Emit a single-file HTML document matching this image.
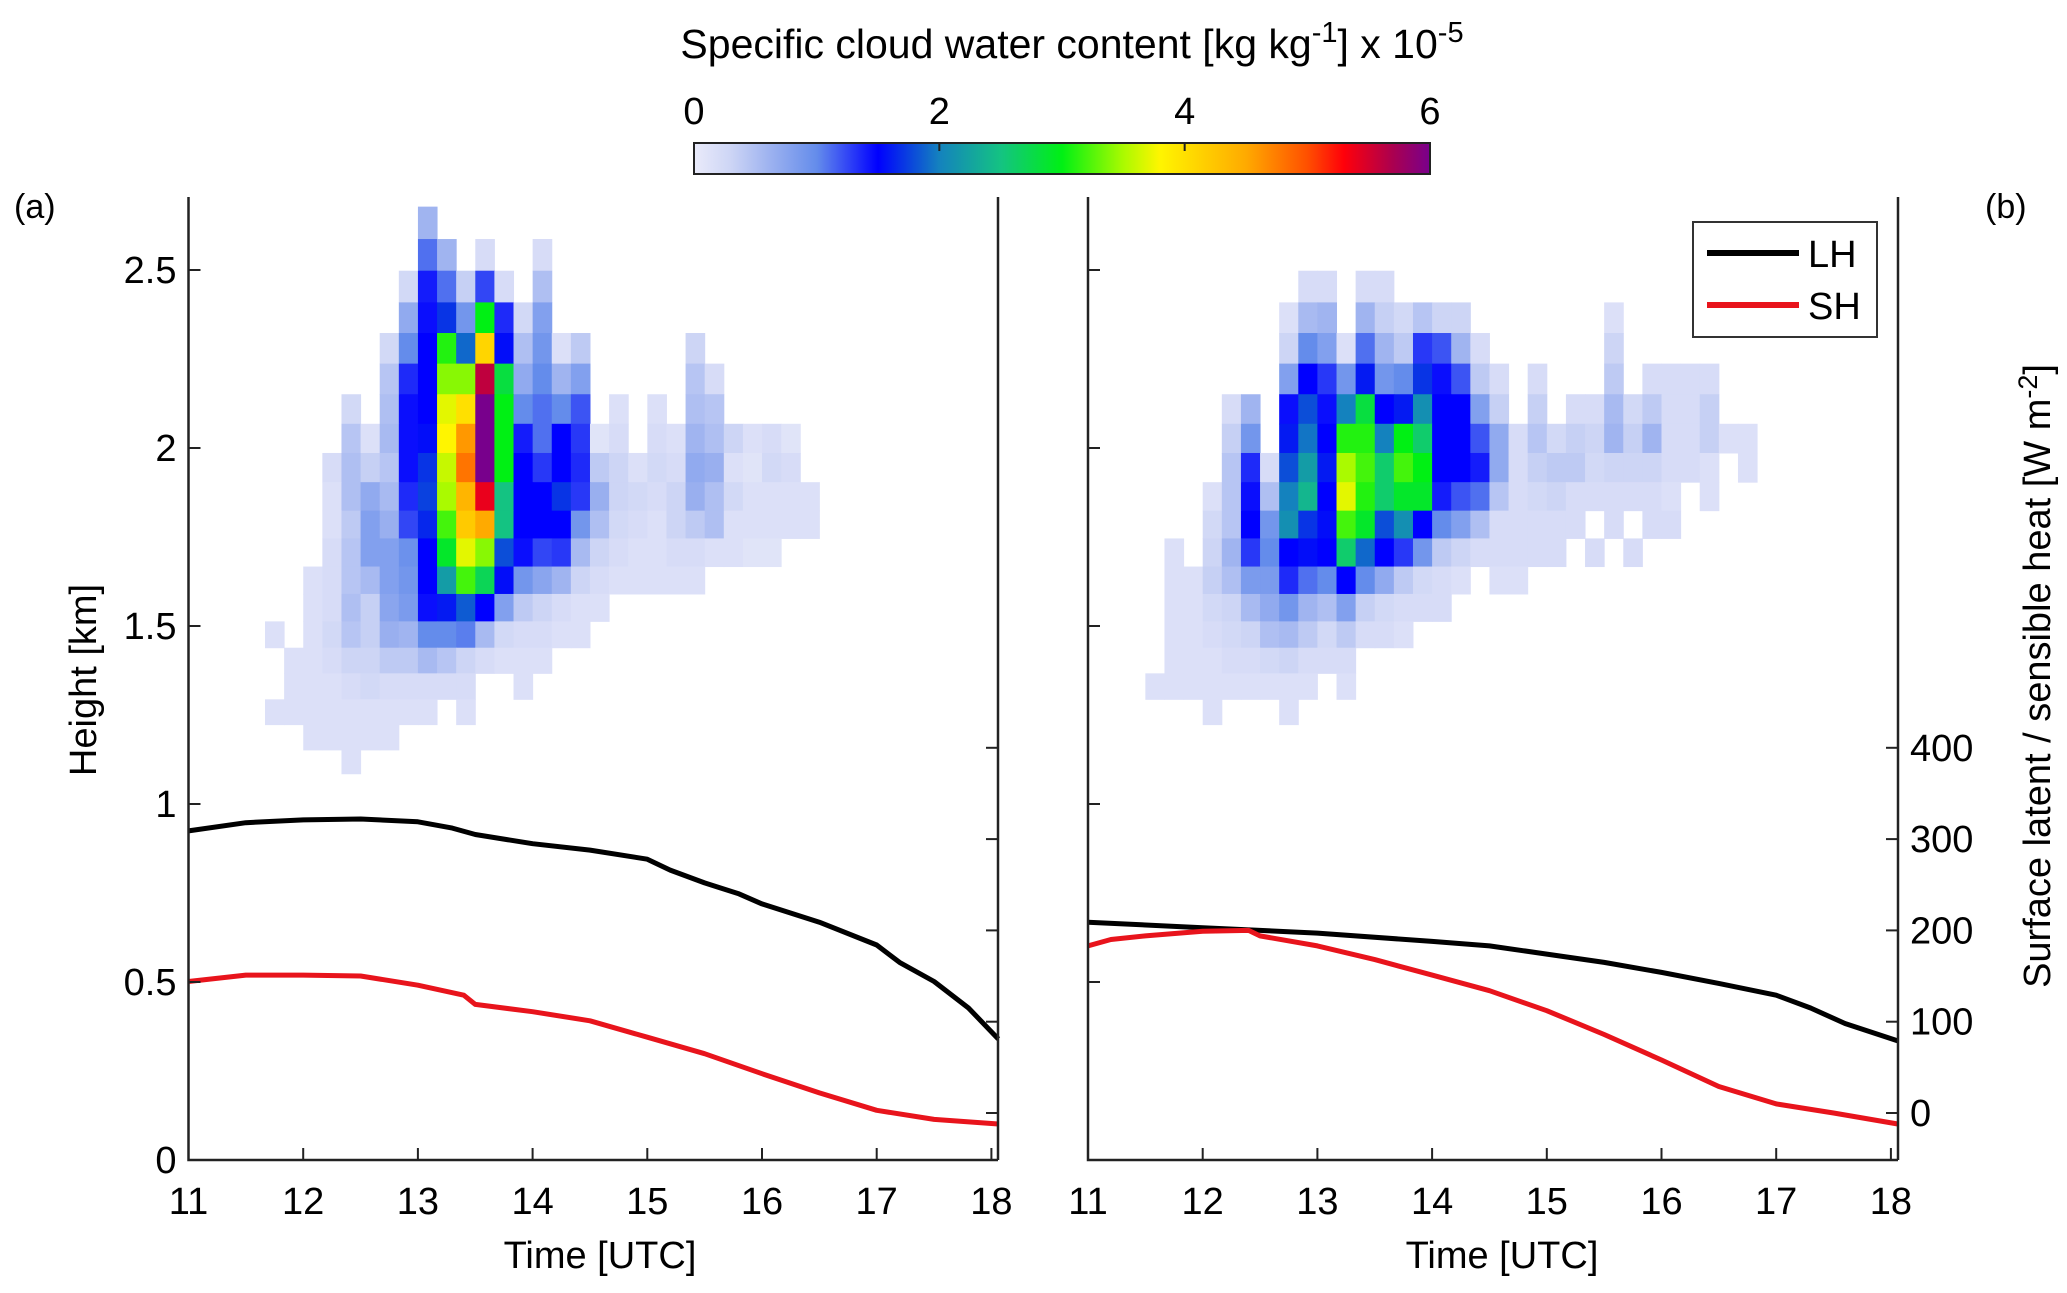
<!DOCTYPE html>
<html><head><meta charset="utf-8"><style>
html,body{margin:0;padding:0;background:#fff;}
svg{display:block;font-family:"Liberation Sans",Arial,sans-serif;}
</style></head><body>
<svg id="chart" width="2067" height="1293" viewBox="0 0 2067 1293" xmlns="http://www.w3.org/2000/svg">
<defs>
<linearGradient id="cbgrad" x1="0" x2="1" y1="0" y2="0">
<stop offset="0" stop-color="rgb(234,235,250)"/>
<stop offset="0.05" stop-color="rgb(205,213,245)"/>
<stop offset="0.10" stop-color="rgb(160,180,240)"/>
<stop offset="0.167" stop-color="rgb(100,140,235)"/>
<stop offset="0.25" stop-color="rgb(0,0,255)"/>
<stop offset="0.333" stop-color="rgb(20,130,190)"/>
<stop offset="0.417" stop-color="rgb(20,195,130)"/>
<stop offset="0.5" stop-color="rgb(0,240,20)"/>
<stop offset="0.583" stop-color="rgb(170,250,0)"/>
<stop offset="0.633" stop-color="rgb(255,245,0)"/>
<stop offset="0.75" stop-color="rgb(255,170,0)"/>
<stop offset="0.833" stop-color="rgb(255,80,0)"/>
<stop offset="0.883" stop-color="rgb(255,0,10)"/>
<stop offset="0.95" stop-color="rgb(170,0,80)"/>
<stop offset="1" stop-color="rgb(120,0,140)"/>
</linearGradient>
</defs>
<g id="cells-a"></g>
<g id="cells-b"></g>
<g id="lines"></g>
<g id="axes"></g>
<text x="1072" y="58" font-size="41" text-anchor="middle">Specific cloud water content [kg kg<tspan dy="-16" font-size="29">-1</tspan><tspan dy="16">] x 10</tspan><tspan dy="-16" font-size="29">-5</tspan></text>
<rect x="694" y="143" width="736" height="31" fill="url(#cbgrad)" stroke="#222" stroke-width="2"/>
<g id="cbticks"></g>
<text x="14" y="218" font-size="34">(a)</text>
<text x="1985" y="218" font-size="34">(b)</text>
<text transform="translate(96,680) rotate(-90)" font-size="38" text-anchor="middle">Height [km]</text>
<text transform="translate(2050,676) rotate(-90)" font-size="38" text-anchor="middle">Surface latent / sensible heat [W m<tspan dy="-13" font-size="27">-2</tspan><tspan dy="13">]</tspan></text>
<text x="600" y="1268" font-size="38" text-anchor="middle">Time [UTC]</text>
<text x="1502" y="1268" font-size="38" text-anchor="middle">Time [UTC]</text>
<g>
<rect x="1693" y="222" width="184" height="115" fill="#fff" stroke="#333" stroke-width="2"/>
<line x1="1707" y1="253" x2="1799" y2="253" stroke="#000" stroke-width="6"/>
<text x="1808" y="267" font-size="38">LH</text>
<line x1="1707" y1="305" x2="1799" y2="305" stroke="#e8141c" stroke-width="6"/>
<text x="1808" y="319" font-size="38">SH</text>
</g>
</svg>
<script>
// level boundaries (km), top to bottom
const levels = [2.678,2.587,2.498,2.409,2.323,2.237,2.151,2.068,1.986,1.904,1.824,1.746,1.667,1.590,1.513,1.439,1.367,1.294,1.223,1.152,1.085];
const startA = 11.667, startB = 11.5, binH = 1/6;
const rowOffsetB = 2;
const gridA = [
[0,0,0,0,0,0,0,0,.6],
[0,0,0,0,0,0,0,0,1.1,.6,0,.2,0,0,.2],
[0,0,0,0,0,0,0,.25,1.4,1.1,.35,1.25,.2,0,.5],
[0,0,0,0,0,0,0,.7,1.45,1.7,.9,3.0,1.35,.25,.8],
[0,0,0,0,0,0,.25,1.0,1.5,3.1,1.9,4.1,1.55,.5,.9,.15,.4,0,0,0,0,0,.3],
[0,0,0,0,0,0,.45,1.35,1.5,3.4,3.4,5.6,2.8,.7,1.0,.6,.8,0,0,0,0,0,.45,.2],
[0,0,0,0,.25,0,.5,1.45,1.5,3.7,4.0,6,3.0,1.0,1.1,1.0,1.2,0,.15,0,.15,0,.5,.45],
[0,0,0,0,.45,.15,.55,1.45,1.55,3.8,4.6,6,3.0,1.4,1.1,1.5,1.3,.1,.2,0,.2,.15,.6,.5,.3,.15,.2,.1],
[0,0,0,.2,.5,.35,.45,1.45,1.7,3.6,4.8,6,3.0,1.5,1.3,1.5,1.35,.4,.3,.15,.25,.2,.7,.65,.15,.1,.25,.2],
[0,0,0,.15,.5,.7,.55,1.35,1.75,3.5,4.4,5.4,2.5,1.5,1.5,1.7,1.3,.65,.3,.25,.2,.3,.65,.5,.25,.15,.15,.15,.15],
[0,0,0,.15,.4,.8,.65,1.25,1.65,3.2,4.2,4.5,2.5,1.5,1.5,1.5,.9,.5,.25,.2,.15,.3,.4,.5,.15,.15,.15,.15,.15],
[0,0,0,.2,.45,.8,.8,.95,1.5,2.9,3.7,3.4,1.8,1.45,1.25,1.3,.55,.3,.2,.15,.15,.2,.2,.15,.15,.1,.1],
[0,0,.15,.2,.45,.55,.8,.9,1.5,2.2,3.2,2.7,1.55,.9,.75,.6,.3,.2,.15,.15,.15,.15,.15],
[0,0,.15,.2,.5,.35,.75,.85,1.45,1.6,1.85,1.5,.8,.4,.3,.2,.15,.15],
[.15,0,.15,.25,.45,.35,.65,.6,1.0,1.0,1.05,.55,.25,.2,.2,.15,.15],
[0,.15,.15,.2,.3,.3,.4,.4,.55,.45,.3,.2,.15,.15,.15],
[0,.15,.15,.15,.2,.25,.2,.2,.2,.2,.2,0,0,.15],
[.15,.15,.15,.15,.15,.15,.15,.15,.15,0,.15],
[0,0,.15,.15,.15,.15,.15],
[0,0,0,0,.15]
];
const gridB = [
[0,0,0,0,0,0,0,0,.2,.2,0,.2,.2],
[0,0,0,0,0,0,0,.15,.55,.6,0,.6,.35,.25,.45,.3,.3,0,0,0,0,0,0,0,.15],
[0,0,0,0,0,0,0,.3,1.0,.8,.15,1.1,.6,.4,1.3,1.2,.6,.2,0,0,0,0,0,0,.3],
[0,0,0,0,0,0,0,.8,1.5,1.3,.9,1.6,.9,1.0,1.7,1.45,1.2,.4,.2,0,.2,0,0,0,.4,0,.2,.2,.2,.2],
[0,0,0,0,.2,.6,0,1.45,1.8,1.45,2.0,2.8,1.5,1.6,2.1,1.5,1.5,.8,.35,0,.35,0,.2,.2,.55,.25,.4,.2,.2,.35],
[0,0,0,0,.35,.9,0,1.6,1.95,1.5,3.1,3.1,2.0,3.0,2.6,1.5,1.5,1.2,.7,.2,.45,.25,.35,.3,.6,.35,.6,.2,.2,.35,.15,.15],
[0,0,0,0,.45,1.35,.2,1.8,2.2,1.6,3.5,3.2,2.6,3.2,3.0,1.5,1.5,1.4,.7,.2,.35,.4,.4,.25,.3,.3,.3,.2,.2,.15,0,.15],
[0,0,0,.15,.45,1.45,.5,2.0,2.4,1.5,3.7,3.1,2.6,2.9,2.9,1.4,1.2,1.1,.45,.2,.25,.3,.2,.2,.2,.2,.2,.15,0,.15],
[0,0,0,.25,.45,1.5,.9,2.1,1.7,1.55,3.2,2.9,1.8,2.1,1.5,1.0,.8,.5,.2,.2,.2,.2,.2,0,.2,0,.2,.2],
[0,.15,0,.3,.6,1.3,1.0,1.5,1.55,1.5,2.6,1.9,1.5,1.3,.9,.4,.3,.2,.2,.2,.2,.2,0,.2,0,.2],
[0,.15,.15,.35,.5,.85,.85,1.35,1.1,1.0,1.5,1.0,.7,.4,.25,.2,.15,0,.15,.15],
[0,.15,.15,.25,.3,.55,.7,.9,.6,.5,.8,.35,.25,.2,.2,.2],
[0,.15,.15,.2,.25,.3,.5,.55,.4,.25,.4,.2,.2,.15],
[0,.15,.15,.15,.2,.2,.25,.3,.2,.2,.2],
[.15,.15,.15,.15,.15,.15,.15,.15,.15,0,.15],
[0,0,0,.15,0,0,0,.15]
];
// fluxes (W m-2)
const timesLHa = [11,11.5,12,12.5,13,13.3,13.5,14,14.5,15,15.2,15.5,15.8,16,16.5,17,17.2,17.5,17.8,18.06];
const lhA = [309,318,321,322,319,312,305,295,288,278,266,252,240,229,209,184,165,144,115,81];
const timesSHa = [11,11.5,12,12.5,13,13.4,13.5,14,14.5,15,15.5,16,16.5,17,17.5,18.06];
const shA = [144,151,151,150,140,129,119,111,101,83,65,43,22,3,-7,-12];
const timesLHb = [11,12,12.5,13,14,14.5,15,15.5,16,16.5,17,17.3,17.6,18.06];
const lhB = [209,203,200,197,188,183,174,165,154,142,129,115,98,79];
const timesSHb = [11,11.2,11.5,12,12.4,12.5,13,13.5,14,14.5,15,15.5,16,16.5,17,17.5,18.06];
const shB = [183,190,194,199,200,194,183,168,151,134,112,86,58,29,10,0,-12];
const kmTicks = [0,0.5,1,1.5,2,2.5];
const kmTickLabels = ["0","0.5","1","1.5","2","2.5"];
const hourTicks = [11,12,13,14,15,16,17,18];
const fluxTicks = [0,100,200,300,400];
const cbTicks = [0,2,4,6];

const NS="http://www.w3.org/2000/svg";
const HOUR=114.7, BOT=1160, TOP=197, KM=356, F0=1113, FU=0.913;
const panels = {a:{left:188.5,right:998}, b:{left:1088,right:1898}};
function xs(p,t){return panels[p].left+(t-11)*HOUR;}
function yk(k){return BOT-k*KM;}
function yf(f){return F0-f*FU;}
const stops=[[0,[234,235,250]],[0.3,[205,213,245]],[0.6,[160,180,240]],[1.0,[100,140,235]],[1.5,[0,0,255]],[2,[20,130,190]],[2.5,[20,195,130]],[3,[0,240,20]],[3.5,[170,250,0]],[3.8,[255,245,0]],[4.5,[255,170,0]],[5,[255,80,0]],[5.3,[255,0,10]],[5.7,[170,0,80]],[6,[120,0,140]]];
function cmap(v){
  for(let i=1;i<stops.length;i++){ if(v<=stops[i][0]){const a=stops[i-1],b=stops[i];const f=(v-a[0])/(b[0]-a[0]);
    return 'rgb('+[0,1,2].map(j=>Math.round(a[1][j]+f*(b[1][j]-a[1][j]))).join(',')+')';}}
  return 'rgb(120,0,140)';
}
function mk(tag,attrs,parent){const e=document.createElementNS(NS,tag);for(const k in attrs)e.setAttribute(k,attrs[k]);parent.appendChild(e);return e;}
function drawGrid(grid,p,start,off,gid){
  const g=document.getElementById(gid);
  grid.forEach((row,r)=>{row.forEach((v,c)=>{ if(!v) return;
    const x0=xs(p,start+c*binH), x1=xs(p,start+(c+1)*binH);
    const y0=yk(levels[r+off]), y1=yk(levels[r+off+1]);
    const el=mk('rect',{x:x0,y:y0,width:x1-x0+0.5,height:y1-y0+0.5,fill:cmap(v)},g);
    
    
  });});
}
drawGrid(gridA,'a',startA,0,'cells-a');
drawGrid(gridB,'b',startB,rowOffsetB,'cells-b');
const lg=document.getElementById('lines');
function line(p,ts,vs,color,name){
  const d=ts.map((t,i)=>(i?'L':'M')+xs(p,t).toFixed(1)+','+yf(vs[i]).toFixed(1)).join(' ');
  const el=mk('path',{d:d,fill:'none',stroke:color,'stroke-width':5,'stroke-linejoin':'round'},lg);
  
  
}
line('a',timesLHa,lhA,'#000','lh-line-a');
line('a',timesSHa,shA,'#e8141c','sh-line-a');
line('b',timesLHb,lhB,'#000','lh-line-b');
line('b',timesSHb,shB,'#e8141c','sh-line-b');
const ax=document.getElementById('axes');
['a','b'].forEach(p=>{
  const L=panels[p].left,R=panels[p].right;
  let e=mk('path',{d:`M${L},${TOP} L${L},${BOT} L${R},${BOT} M${R},${TOP} L${R},${BOT}`,fill:'none',stroke:'#222','stroke-width':2.5},ax);
  
  
  hourTicks.forEach(h=>{const x=xs(p,h);
    mk('line',{x1:x,y1:BOT,x2:x,y2:BOT-12,stroke:'#222','stroke-width':2},ax);
    const t=mk('text',{x:x,y:1214,'font-size':38,'text-anchor':'middle'},ax);t.textContent=h;
    
    
  });
  kmTicks.forEach((k,i)=>{const y=yk(k);
    mk('line',{x1:L,y1:y,x2:L+12,y2:y,stroke:'#222','stroke-width':2},ax);
    if(p==='a'){const t=mk('text',{x:L-12,y:y+13,'font-size':38,'text-anchor':'end'},ax);t.textContent=kmTickLabels[i];
      
      }
  });
  fluxTicks.forEach(f=>{const y=yf(f);
    mk('line',{x1:R,y1:y,x2:R-12,y2:y,stroke:'#222','stroke-width':2},ax);
    if(p==='b'){const t=mk('text',{x:R+12,y:y+13,'font-size':38},ax);t.textContent=f;
      
      }
  });
});
const cb=document.getElementById('cbticks');
cbTicks.forEach(v=>{const x=694+v/6*736;
  if(v>0&&v<6) mk('line',{x1:x,y1:143,x2:x,y2:151,stroke:'#222','stroke-width':2},cb);
  const t=mk('text',{x:x,y:124,'font-size':38,'text-anchor':'middle'},cb);t.textContent=v;
  
  
});
</script>
</body></html>
